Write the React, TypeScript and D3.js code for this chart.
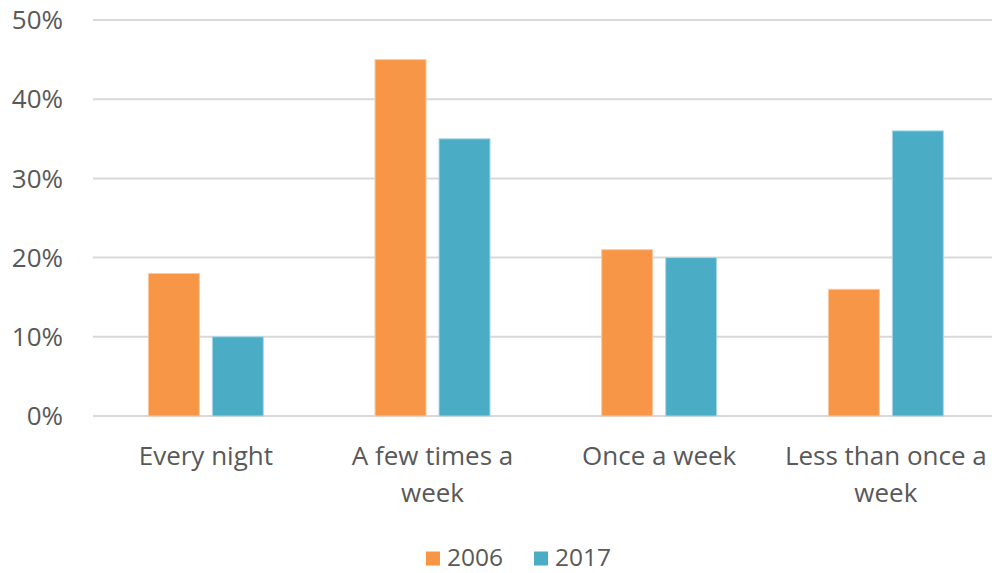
import React, { useEffect, useRef } from "react";
import * as d3 from "d3";

const categories = [["Every night"], ["A few times a", "week"], ["Once a week"], ["Less than once a", "week"]];
const years = ["2006", "2017"];
const values2006 = [18, 45, 21, 16];
const values2017 = [10, 35, 20, 36];
const yTicks = [0, 10, 20, 30, 40, 50];
const colors = ["#F79646", "#4BACC6"];
const strokes = ["#FBC9A0", "#A9D8E6"];

export default function App() {
  const ref = useRef<SVGSVGElement>(null);

  useEffect(() => {
    const svg = d3.select(ref.current);
    svg.selectAll("*").remove();
    const width = 992, height = 573;
    const font = "'Open Sans', 'Segoe UI', sans-serif";
    const textColor = "#595959";
    const fontSize = "26px";

    const keys = categories.map((c) => c.join(" "));
    // plot runs slightly past the right edge, like the source image
    const x0 = d3.scaleBand().domain(keys).range([92.5, 999.2]).paddingInner(0.4927).paddingOuter(0.2464);
    const x1 = d3.scaleBand().domain(years).range([0, x0.bandwidth()]).paddingInner(0.203);
    const y = d3.scaleLinear().domain([0, 50]).range([416, 20]);

    svg.append("g").selectAll("line").data(yTicks).enter().append("line")
      .attr("x1", 93).attr("x2", width)
      .attr("y1", (d) => y(d)).attr("y2", (d) => y(d))
      .style("stroke", "#D9D9D9").style("stroke-width", 2);

    svg.append("g").selectAll("text").data(yTicks).enter().append("text")
      .attr("x", 63).attr("y", (d) => y(d)).attr("dy", "0.35em")
      .attr("text-anchor", "end")
      .style("font-family", font).style("font-size", fontSize).style("fill", textColor)
      .text((d) => d + "%");

    const series = [values2006, values2017];
    series.forEach(function (vals, si) {
      svg.append("g").selectAll("rect").data(vals).enter().append("rect")
        .attr("x", (d, i) => (x0(keys[i]) as number) + (x1(years[si]) as number))
        .attr("width", x1.bandwidth())
        .attr("y", (d) => y(d))
        .attr("height", (d) => y(0) - y(d))
        .style("fill", colors[si])
        .style("stroke", strokes[si]).style("stroke-width", 1);
    });

    const labels = svg.append("g").selectAll("text").data(categories).enter().append("text")
      .attr("x", (d, i) => (x0(keys[i]) as number) + x0.bandwidth() / 2)
      .attr("y", 465)
      .attr("text-anchor", "middle")
      .style("font-family", font).style("font-size", fontSize).style("fill", textColor);
    labels.each(function (d) {
      const t = d3.select(this);
      d.forEach((line, li) => {
        t.append("tspan").attr("x", t.attr("x")).attr("dy", li === 0 ? 0 : 37).text(line);
      });
    });

    // legend sits right at the bottom edge, so keep the baseline high enough
    const legendX = [426, 534];
    years.forEach(function (yr, i) {
      svg.append("rect").attr("x", legendX[i]).attr("y", 551.5).attr("width", 14).attr("height", 14)
        .style("fill", colors[i]);
      svg.append("text").attr("x", legendX[i] + 21).attr("y", 566)
        .style("font-family", font).style("font-size", "24.5px").style("fill", textColor)
        .text(yr);
    });
  }, []);

  return (
    <svg ref={ref} width={992} height={573} style={{ position: "absolute", left: 0, top: 0, background: "#fff" }} />
  );
}
